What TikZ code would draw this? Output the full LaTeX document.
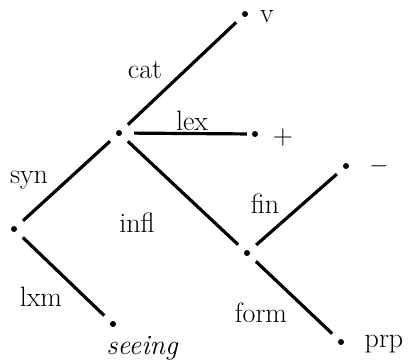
\documentclass[tikz,border=0pt]{standalone}
\begin{document}
\begin{tikzpicture}[x=1pt,y=-1pt,
  dot/.style={circle,fill=black,inner sep=0pt,minimum size=6pt},
  edge/.style={line width=3.2pt,shorten <=9pt,shorten >=9pt},
  lbl/.style={font=\fontsize{28}{30}\selectfont,inner sep=0pt}]
\useasboundingbox (0,0) rectangle (409,360);
\node[dot] (root) at (14,229) {};
\node[dot] (syn) at (119,133) {};
\node[dot] (v) at (245,14) {};
\node[dot] (plus) at (255,134) {};
\node[dot] (infl) at (247,253) {};
\node[dot] (minus) at (346,166) {};
\node[dot] (prp) at (341,342) {};
\node[dot] (seeing) at (113,324) {};
\draw[edge] (root) -- (syn);
\draw[edge] (root) -- (seeing);
\draw[edge] (syn) -- (v);
\draw[edge,shorten <=12pt,shorten >=5pt] (syn) -- (plus);
\draw[edge] (syn) -- (infl);
\draw[edge] (infl) -- (minus);
\draw[edge] (infl) -- (prp);
\node[lbl] (tv) at (267,17) {v};
\node[lbl] (tplus) at (283,138) {+};
\node[lbl] (tminus) at (379,166) {$-$};
\node[lbl] (tprp) at (384,344) {prp};
\node[lbl] (tseeing) at (142,348) {\itshape seeing};
\node[lbl] (tcat) at (145,70) {cat};
\node[lbl] (tlex) at (192,121) {lex};
\node[lbl] (tsyn) at (29,180) {syn};
\node[lbl] (tinfl) at (137,223) {infl};
\node[lbl] (tfin) at (265,204) {fin};
\node[lbl] (tlxm) at (41,297) {lxm};
\node[lbl] (tform) at (261,313) {form};
\end{tikzpicture}
\end{document}
